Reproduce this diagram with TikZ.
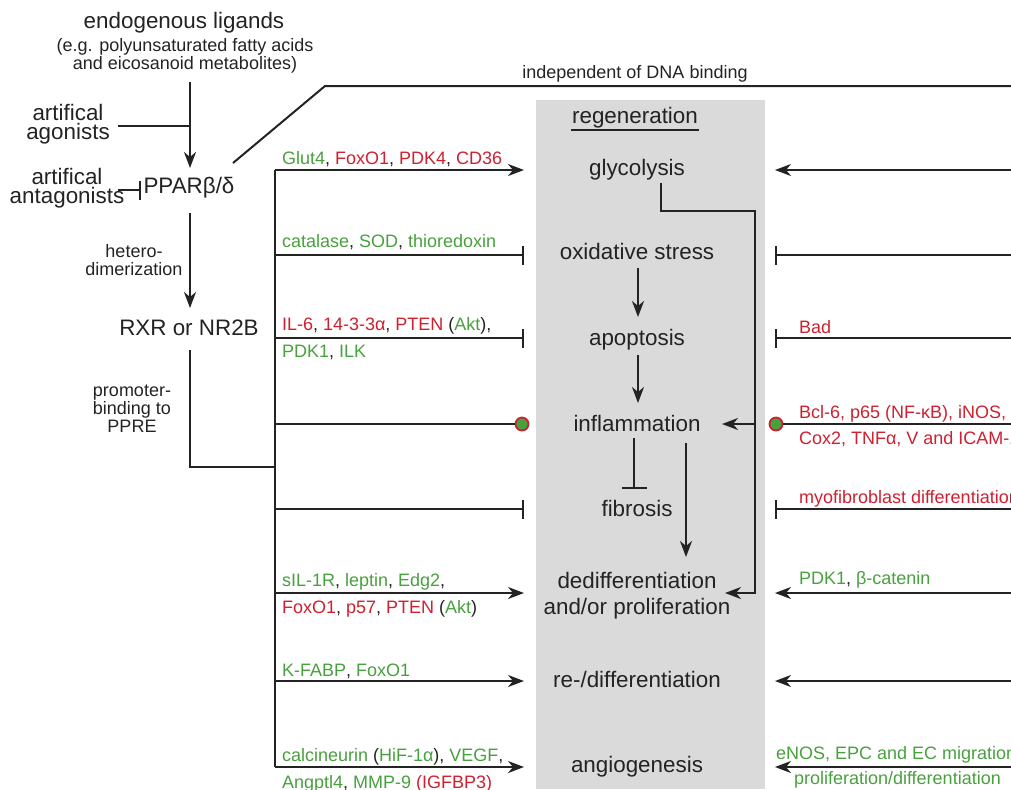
\documentclass[tikz,border=0pt]{standalone}
\usepackage{fontspec}
\setmainfont{Liberation Sans}
\definecolor{ink}{RGB}{35,35,35}
\definecolor{boxgray}{RGB}{218,218,218}
\definecolor{upgreen}{RGB}{72,160,62}
\definecolor{downred}{RGB}{206,32,48}
\usetikzlibrary{arrows.meta,positioning}
\newcommand{\gn}[1]{\textcolor{upgreen}{#1}}
\newcommand{\rd}[1]{\textcolor{downred}{#1}}

\begin{document}
\begin{tikzpicture}[x=0.5pt, y=-0.5pt, line width=1pt, color=ink,
    every node/.style={inner sep=0pt},
    big/.style={font=\fontsize{11.2}{13}\selectfont},
    tight/.style={font=\fontsize{11.2}{9.5}\selectfont, align=center},
    small/.style={font=\fontsize{9}{9}\selectfont},
    act/.style={-{Stealth[length=8pt,width=6pt,inset=2.5pt]}},
    inh/.style={-{Bar[width=9.5pt]}},
    dot/.style={circle, draw=downred, fill=upgreen, line width=0.9pt, minimum size=6.5pt}]
    \useasboundingbox (0,0) rectangle (1011,789);
    \clip (0,0) rectangle (1011,789);
    \fill[boxgray] (536,100) rectangle (765,789);

    % receptor side (multi-line nodes sit on their last baseline)
    \node[big, anchor=base] (ligands) at (184,28) {endogenous ligands};
    \node[small, anchor=base, align=center] (ligandsEx) at (185,69) {(e.g. polyunsaturated fatty acids\\ and eicosanoid metabolites)};
    \node[tight, anchor=base] (agonists) at (68,139) {artifical\\agonists};
    \node[tight, anchor=base] (antagonists) at (67,203) {artifical\\antagonists};
    \node[big] (ppar) at (189,188) {PPARβ/δ};
    \node[small, anchor=base, align=center] (hetero) at (134,275) {hetero-\\dimerization};
    \node[big, anchor=base] (rxr) at (189,335) {RXR or NR2B};
    \node[small, anchor=base, align=center] (promoter) at (132,432) {promoter-\\binding to\\PPRE};
    \node[small, anchor=base] (dnaFree) at (635,78) {independent of DNA binding};

    \coordinate (ligEnd) at (190,82);
    \coordinate (pparIn) at (190,168);
    \coordinate (agoEnd) at (118,126);
    \coordinate (agoJoin) at (190,126);
    \coordinate (antEnd) at (118,190);
    \coordinate (antBar) at (141,190);
    \coordinate (pparOut) at (233,163);
    \coordinate (dnaBend) at (325,86);
    \coordinate (dnaEnd) at (1011,86);
    \coordinate (pparDown) at (190,213);
    \coordinate (rxrIn) at (190,308);
    \coordinate (rxrOut) at (190,350);
    \coordinate (ppreBend) at (190,467);
    \coordinate (ppreJoin) at (275,467);

    \draw[act] (ligEnd) -- (pparIn);
    \draw (agoEnd) -- (agoJoin);
    \draw[inh] (antEnd) -- (antBar);
    \draw (pparOut) -- (dnaBend) -- (dnaEnd);
    \draw[act] (pparDown) -- (rxrIn);
    \draw (rxrOut) -- (ppreBend) -- (ppreJoin);

    % regeneration column
    \node[big, anchor=base] (regen) at (635,123) {regeneration};
    \draw ([yshift=-3.5pt]regen.base west) -- ([yshift=-3.5pt]regen.base east);
    \node[big, anchor=base] (glyc) at (637,175) {glycolysis};
    \node[big, anchor=base] (oxstress) at (637,259) {oxidative stress};
    \node[big, anchor=base] (apop) at (637,345) {apoptosis};
    \node[big, anchor=base] (inflam) at (637,431) {inflammation};
    \node[big, anchor=base] (fibro) at (637,516) {fibrosis};
    \node[big, anchor=base, align=center] (dediff) at (637,614) {dedifferentiation\\and/or proliferation};
    \node[big, anchor=base] (rediff) at (637,687) {re-/differentiation};
    \node[big, anchor=base] (angio) at (637,772) {angiogenesis};

    \coordinate (oxOut) at (638,268);
    \coordinate (apoIn) at (638,317);
    \coordinate (apoOut) at (638,355);
    \coordinate (inflIn) at (638,403);
    \coordinate (inflStop) at (634,438);
    \coordinate (fibBar) at (634,489);
    \coordinate (inflDown) at (686,443);
    \coordinate (dedIn) at (686,557);
    \coordinate (glyOut) at (661,183);
    \coordinate (glyBend) at (661,211);
    \coordinate (loopTop) at (755,211);
    \coordinate (loopInf) at (755,424);
    \coordinate (loopDed) at (755,593);
    \coordinate (infTip) at (722,424);
    \coordinate (dedTip) at (725,593);

    \draw[act] (oxOut) -- (apoIn);
    \draw[act] (apoOut) -- (inflIn);
    \draw[-{Bar[width=12.5pt]}] (inflStop) -- (fibBar);
    \draw[act] (inflDown) -- (dedIn);
    \draw[act] (glyOut) -- (glyBend) -- (loopTop) -- (loopDed) -- (dedTip);
    \draw[act] (loopInf) -- (infTip);

    % rows in and out of the column
    \foreach \row/\yy in {gly/170, ox/255, apo/338, inf/424, fib/509, ded/593, red/681, ang/767} {
        \coordinate (L\row) at (275,\yy);
        \coordinate (Lt\row) at (524,\yy);
        \coordinate (R\row) at (1011,\yy);
        \coordinate (Rt\row) at (775,\yy);
    }
    \draw (Lgly) -- (Lang);
    \node[dot] (dotL) at (522,424) {};
    \node[dot] (dotR) at (776,424) {};

    \draw[act] (Lgly) -- (Ltgly);
    \draw[inh] (Lox) -- (Ltox);
    \draw[inh] (Lapo) -- (Ltapo);
    \draw (Linf) -- (dotL);
    \draw[inh] (Lfib) -- (Ltfib);
    \draw[act] (Lded) -- (Ltded);
    \draw[act] (Lred) -- (Ltred);
    \draw[act] (Lang) -- (Ltang);

    \draw[act] (Rgly) -- (Rtgly);
    \draw[inh] (Rox) -- (Rtox);
    \draw[inh] (Rapo) -- (Rtapo);
    \draw (Rinf) -- (dotR);
    \draw[inh] (Rfib) -- (Rtfib);
    \draw[act] (Rded) -- (Rtded);
    \draw[act] (Rred) -- (Rtred);
    \draw[act] (Rang) -- (Rtang);

    % gene labels
    \node[small, anchor=base west] (glyLbl) at (281,164) {\gn{Glut4}, \rd{FoxO1}, \rd{PDK4}, \rd{CD36}};
    \node[small, anchor=base west] (oxLbl) at (281,247) {\gn{catalase}, \gn{SOD}, \gn{thioredoxin}};
    \node[small, anchor=base west] (apoLbl) at (281,330) {\rd{IL-6}, \rd{14-3-3α}, \rd{PTEN} (\gn{Akt}),};
    \node[small, anchor=base west] (apoLblB) at (281,357) {\gn{PDK1}, \gn{ILK}};
    \node[small, anchor=base west] (dedLbl) at (281,586) {\gn{sIL-1R}, \gn{leptin}, \gn{Edg2},};
    \node[small, anchor=base west] (dedLblB) at (281,613) {\rd{FoxO1}, \rd{p57}, \rd{PTEN} (\gn{Akt})};
    \node[small, anchor=base west] (redLbl) at (281,676) {\gn{K-FABP}, \gn{FoxO1}};
    \node[small, anchor=base west] (angLbl) at (281,761) {\gn{calcineurin} (\gn{HiF-1α}), \gn{VEGF},};
    \node[small, anchor=base west] (angLblB) at (281,788) {\gn{Angptl4}, \gn{MMP-9} \rd{(IGFBP3)}};

    \node[small, anchor=base west] (apoRLbl) at (798,333) {\rd{Bad}};
    \node[small, anchor=base west] (infRLbl) at (798,418) {\rd{Bcl-6, p65 (NF-κB), iNOS,}};
    \node[small, anchor=base west] (infRLblB) at (798,444) {\rd{Cox2, TNFα, V and ICAM-1}};
    \node[small, anchor=base west] (fibRLbl) at (798,503) {\rd{myofibroblast differentiation}};
    \node[small, anchor=base west] (dedRLbl) at (798,584) {\gn{PDK1}, \gn{β-catenin}};
    \node[small, anchor=base west] (angRLbl) at (775,759) {\gn{eNOS, EPC and EC migration,}};
    \node[small, anchor=base west] (angRLblB) at (793,784) {\gn{proliferation/differentiation}};
\end{tikzpicture}
\end{document}
